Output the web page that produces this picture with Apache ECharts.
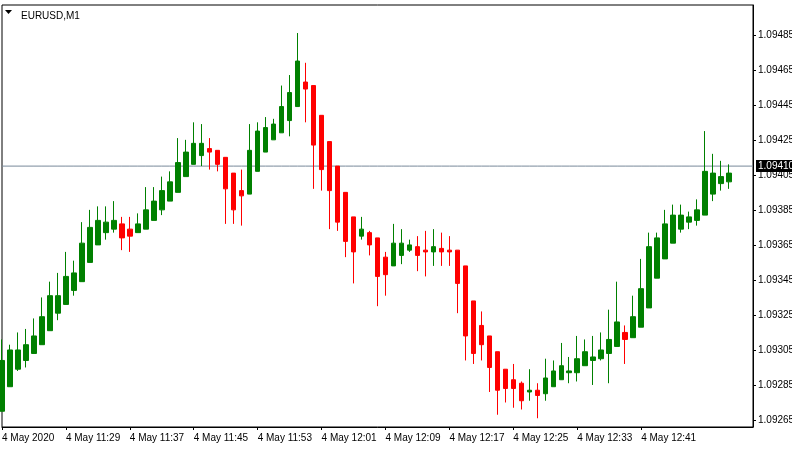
<!DOCTYPE html>
<html><head><meta charset="utf-8">
<script src="https://cdn.jsdelivr.net/npm/echarts@6/dist/echarts.min.js"></script>
<style>html,body{margin:0;padding:0;background:#fff}#c{width:792px;height:451px}</style>
</head><body><div id="c"></div>
<script>
// [open, close, low, high]
const ohlc = [
[1.09270,1.09299,1.09270,1.09311],[1.09284,1.09305,1.09284,1.09308],[1.09294,1.09305,1.09293,1.09315],
[1.09299,1.09308,1.09295,1.09317],[1.09303,1.09313,1.09303,1.09323],[1.09308,1.09324,1.09308,1.09335],
[1.09316,1.09336,1.09316,1.09344],[1.09326,1.09336,1.09322,1.09349],[1.09331,1.09347,1.09331,1.09361],
[1.09339,1.09349,1.09336,1.09356],[1.09344,1.09366,1.09344,1.09378],[1.09355,1.09375,1.09355,1.09385],
[1.09365,1.09379,1.09365,1.09387],[1.09372,1.09378,1.09368,1.09387],[1.09374,1.09379,1.09372,1.09390],
[1.09377,1.09369,1.09362,1.09381],[1.09374,1.09370,1.09361,1.09381],[1.09372,1.09377,1.09372,1.09383],
[1.09374,1.09385,1.09374,1.09398],[1.09379,1.09390,1.09379,1.09398],[1.09385,1.09396,1.09382,1.09404],
[1.09390,1.09401,1.09390,1.09407],[1.09395,1.09412,1.09395,1.09426],[1.09404,1.09418,1.09404,1.09425],
[1.09411,1.09423,1.09411,1.09435],[1.09416,1.09423,1.09410,1.09434],[1.09420,1.09418,1.09408,1.09426],
[1.09419,1.09411,1.09407,1.09419],[1.09415,1.09397,1.09377,1.09415],[1.09406,1.09385,1.09377,1.09406],
[1.09396,1.09393,1.09376,1.09408],[1.09394,1.09419,1.09394,1.09434],[1.09407,1.09430,1.09407,1.09435],
[1.09418,1.09432,1.09418,1.09438],[1.09425,1.09434,1.09425,1.09437],[1.09429,1.09444,1.09429,1.09456],
[1.09436,1.09452,1.09427,1.09462],[1.09444,1.09470,1.09444,1.09486],[1.09458,1.09454,1.09435,1.09469],
[1.09456,1.09422,1.09397,1.09456],[1.09439,1.09408,1.09396,1.09439],[1.09424,1.09396,1.09374,1.09424],
[1.09410,1.09378,1.09373,1.09410],[1.09395,1.09367,1.09358,1.09395],[1.09381,1.09361,1.09343,1.09381],
[1.09370,1.09374,1.09368,1.09381],[1.09372,1.09365,1.09359,1.09373],[1.09369,1.09347,1.09330,1.09369],
[1.09358,1.09348,1.09336,1.09361],[1.09353,1.09366,1.09353,1.09377],[1.09359,1.09366,1.09354,1.09374],
[1.09362,1.09365,1.09361,1.09368],[1.09364,1.09359,1.09350,1.09370],[1.09362,1.09361,1.09347,1.09373],
[1.09361,1.09364,1.09353,1.09374],[1.09363,1.09361,1.09353,1.09372],[1.09362,1.09361,1.09353,1.09370],
[1.09362,1.09343,1.09326,1.09362],[1.09353,1.09313,1.09299,1.09353],[1.09333,1.09303,1.09297,1.09333],
[1.09319,1.09308,1.09299,1.09327],[1.09313,1.09295,1.09281,1.09313],[1.09304,1.09282,1.09268,1.09304],
[1.09294,1.09283,1.09275,1.09294],[1.09288,1.09283,1.09272,1.09297],[1.09286,1.09276,1.09271,1.09287],
[1.09281,1.09282,1.09276,1.09294],[1.09282,1.09279,1.09266,1.09286],[1.09280,1.09289,1.09276,1.09300],
[1.09284,1.09293,1.09284,1.09299],[1.09288,1.09296,1.09288,1.09309],[1.09292,1.09293,1.09286,1.09301],
[1.09292,1.09300,1.09287,1.09313],[1.09296,1.09304,1.09296,1.09311],[1.09299,1.09301,1.09285,1.09313],
[1.09300,1.09305,1.09299,1.09315],[1.09303,1.09311,1.09286,1.09328],[1.09307,1.09321,1.09307,1.09344],
[1.09315,1.09311,1.09297,1.09319],[1.09312,1.09324,1.09312,1.09336],[1.09318,1.09340,1.09318,1.09357],
[1.09329,1.09364,1.09329,1.09372],[1.09346,1.09369,1.09346,1.09372],[1.09357,1.09377,1.09357,1.09385],
[1.09366,1.09382,1.09366,1.09388],[1.09374,1.09382,1.09372,1.09388],[1.09378,1.09381,1.09374,1.09384],
[1.09379,1.09385,1.09376,1.09391],[1.09382,1.09407,1.09382,1.09430],[1.09394,1.09406,1.09390,1.09417],
[1.09400,1.09404,1.09396,1.09413],[1.09401,1.09406,1.09397,1.09411]
];
const priceTicks = [1.09265,1.09285,1.09305,1.09325,1.09345,1.09365,1.09385,1.09405,1.09425,1.09445,1.09465,1.09485];
const currentPrice = 1.09410;
const startHour = 11, startMinute = 21, extraSlots = 3;
const categories = [];
for (let i = 0; i < ohlc.length + extraSlots; i++) {
  const t = startHour * 60 + startMinute + i;
  categories.push('4 May ' + Math.floor(t / 60) + ':' + String(t % 60).padStart(2, '0'));
}
categories[0] = '4 May 2020';
const labelEvery = 8;
const priceLine = categories.map(() => currentPrice);

const chart = echarts.init(document.getElementById('c'));
chart.setOption({
  animation: false,
  backgroundColor: '#fff',
  textStyle: { fontFamily: 'Liberation Sans' },
  title: { text: 'EURUSD,M1', left: 16, top: 6, textStyle: { fontSize: 10, fontWeight: 'normal', color: '#000', fontFamily: 'Liberation Sans' } },
  graphic: [{ type: 'polygon', shape: { points: [[5, 10], [12, 10], [8.5, 14]] }, style: { fill: '#000' } }],
  grid: { left: 2, right: 39, top: 5, bottom: 24, containLabel: false, outerBoundsMode: 'none', show: true, borderColor: '#000', borderWidth: 1, backgroundColor: 'transparent' },
  xAxis: {
    type: 'category', data: categories, boundaryGap: false,
    axisLine: { show: true, lineStyle: { color: '#000' } },
    axisTick: { show: true, interval: (i) => i % labelEvery === 0, length: 3, lineStyle: { color: '#000' } },
    axisLabel: { interval: (i) => i % labelEvery === 0, align: 'left', color: '#000', fontSize: 10, margin: 6, showMaxLabel: false, hideOverlap: false },
    splitLine: { show: false }
  },
  yAxis: {
    type: 'value', position: 'right', min: 1.09261, max: 1.09502, scale: true,
    axisLine: { show: true, lineStyle: { color: '#000' } },
    axisTick: { show: true, customValues: priceTicks, length: 3, lineStyle: { color: '#000' } },
    axisLabel: { customValues: priceTicks, color: '#000', fontSize: 10, margin: 5, formatter: (v) => v.toFixed(5) },
    splitLine: { show: false }
  },
  series: [{
    type: 'line', data: priceLine, symbol: 'none', silent: true, z: 1,
    lineStyle: { color: '#778899', width: 1 },
    endLabel: { show: true, formatter: () => currentPrice.toFixed(5), color: '#fff', backgroundColor: '#000', fontSize: 10, padding: [1, 2, 1, 2], distance: 3 }
  }, {
    type: 'candlestick', data: ohlc, barWidth: 5, z: 3,
    itemStyle: { color: '#008000', color0: '#ff0000', borderColor: '#008000', borderColor0: '#ff0000', borderWidth: 1 }
  }]
});
</script></body></html>
